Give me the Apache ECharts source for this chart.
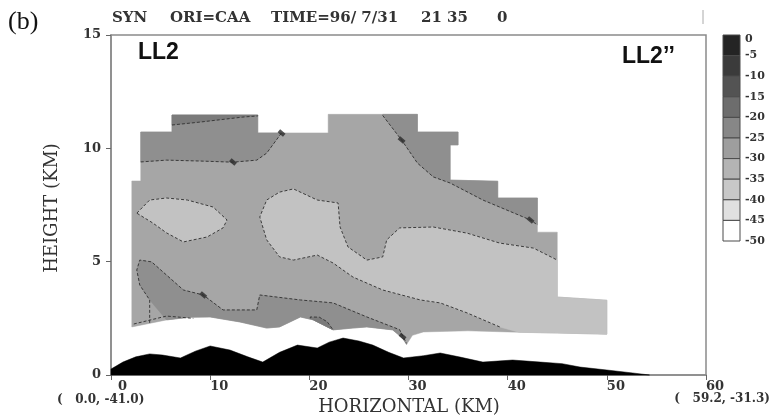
<!DOCTYPE html>
<html><head><meta charset="utf-8">
<script src="https://cdn.jsdelivr.net/npm/echarts@6/dist/echarts.min.js"></script>
<style>html,body{margin:0;padding:0;background:#fff}#c{width:772px;height:420px}</style>
</head><body><div id="c"></div>
<script>
// ---- axis ticks / legend ----
const xTicks = [0, 10, 20, 30, 40, 50, 60];
const yTicks = [0, 5, 10, 15];
const legendLabels = ['0', '-5', '-10', '-15', '-20', '-25', '-30', '-35', '-40', '-45', '-50'];
const legendShades = ['#242424', '#3b3b3b', '#535353', '#6d6d6d', '#878787', '#9e9e9e', '#b4b4b4', '#c8c8c8', '#e0e0e0', '#ffffff'];

// ---- echo region (km, km) ----
const echoTop = [[2.1,2.12],[2.1,8.56],[3.0,8.56],[3.0,10.72],[6.15,10.72],[6.15,11.47],[14.8,11.47],[14.8,10.68],[21.9,10.68],[21.9,11.5],[30.9,11.5],[30.9,10.72],[35.0,10.72],[35.0,10.15],[34.2,10.15],[34.2,8.6],[39.0,8.55],[39.0,7.81],[43.0,7.81],[43.0,6.3],[45.0,6.3],[45.0,3.44],[50.0,3.3],[50.0,1.8]];
const echoBottom = [[2.1,2.12],[5.6,2.43],[8.0,2.55],[10.0,2.56],[13.0,2.34],[15.7,2.07],[17.0,2.12],[19.1,2.56],[20.4,2.43],[22.4,1.99],[24.4,2.07],[25.8,2.12],[28.4,1.99],[29.4,1.63],[29.8,1.35],[30.4,1.75],[31.5,1.9],[36,1.95],[40,1.9],[45,1.85],[50,1.8]];
// contour lines / bands
const upperLine = [[3.0,9.4],[5.6,9.48],[9.0,9.44],[12.3,9.39],[14.7,9.48],[15.7,9.79],[17.2,10.68]];
const topStripLine = [[6.15,11.03],[9.0,11.16],[13.3,11.38],[14.8,11.43]];
const rightLine = [[27.4,11.45],[29.3,10.37],[30.9,9.35],[32.5,8.74],[34.2,8.47],[37.5,7.72],[42.3,6.84],[43.0,6.62]];
const leftOval = [[2.6,7.14],[3.9,7.72],[5.6,7.81],[7.7,7.72],[10.3,7.41],[11.7,6.84],[11.3,6.49],[9.7,6.09],[7.3,5.87],[5.6,6.27],[4.2,6.71]];
const lightTopEdge = [[15.0,6.97],[15.7,7.72],[17.0,8.07],[18.4,8.21],[20.8,7.72],[22.9,7.59],[23.1,6.53],[23.9,5.65],[25.8,5.07],[27.4,5.21],[27.8,5.96],[29.1,6.49],[32.5,6.53],[35.9,6.26],[39.2,5.82],[42.6,5.60],[45.0,5.07]];
const lightBottomEdge = [[39.2,2.12],[35.9,2.74],[33.2,3.18],[31.2,3.31],[27.4,3.75],[24.4,4.32],[22.4,4.94],[20.8,5.29],[18.4,5.07],[17.0,5.21],[15.7,5.96]];
const lightRightEdge = [[45.0,3.44],[50.0,3.3],[50.0,1.8],[45,1.85],[41.2,1.88]];
const lowerBandTop = [[3.9,2.3],[3.9,3.31],[2.9,3.97],[2.6,4.63],[2.9,5.07],[4.1,4.99],[7.3,3.75],[9.3,3.53],[11.3,2.87],[14.7,2.87],[15.0,3.53],[19.1,3.31],[22.4,3.18],[25.8,2.56],[29.1,2.0],[29.8,1.4]];
const lowerPatch = [[20.1,2.5],[20.1,2.56],[21.0,2.55],[21.8,2.35],[22.4,1.99],[20.4,2.43]];
const bottomLeftLine = [[2.3,2.25],[5.6,2.6],[8.3,2.5]];
const terrain = [[0,0],[0,0.26],[1.2,0.57],[2.5,0.8],[3.9,0.93],[5.2,0.88],[7.0,0.75],[8.5,1.05],[10.0,1.28],[12.0,1.10],[13.8,0.8],[15.3,0.57],[17.0,1.0],[18.8,1.32],[20.8,1.19],[22.0,1.45],[23.4,1.63],[25.0,1.5],[26.4,1.32],[28.0,1.0],[29.5,0.75],[31.5,0.85],[33.2,0.97],[35.2,0.79],[37.5,0.57],[40.5,0.66],[43.3,0.57],[45.5,0.5],[47.3,0.35],[50.0,0.22],[52.6,0.09],[54.3,0]];
const contourLabelMarks = [[17.2,10.68],[12.3,9.40],[29.3,10.37],[9.3,3.53],[42.3,6.84],[29.4,1.7]];

// ---- derived shapes (built from the arrays above) ----
const echoOuter = echoTop.concat(echoBottom.slice(0, -1).reverse());
const upperBand = [[3.0,10.72],[6.15,10.72],[6.15,11.47],[14.8,11.47],[14.8,10.68]].concat(upperLine.slice().reverse());
const topStrip = [[6.15,11.47],[14.8,11.47]].concat(topStripLine.slice().reverse());
const rightBand = [[30.9,11.5],[30.9,10.72],[35.0,10.72],[35.0,10.15],[34.2,10.15],[34.2,8.6],[39.0,8.55],[39.0,7.81],[43.0,7.81]].concat(rightLine.slice().reverse(), [[27.4,11.5]]);
const centralLight = lightTopEdge.concat(lightRightEdge, lightBottomEdge);
const lowerBandBottom = echoBottom.filter(p => p[0] > 3.9 && p[0] <= 29.8).reverse();
const lowerBand = lowerBandTop.slice(1).concat(lowerBandBottom);
const lightContour = lightBottomEdge.concat(lightTopEdge);

const MAIN = '#a6a6a6', DARK = '#8f8f8f', DARKER = '#7b7b7b', LIGHT = '#c2c2c2';

function poly(pts, fill, z) {
  return { type: 'custom', coordinateSystem: 'cartesian2d', silent: true, z: z, data: [[0, 0]],
    renderItem: (p, api) => ({ type: 'polygon', shape: { points: pts.map(q => api.coord(q)) }, style: { fill: fill, stroke: fill, lineWidth: 0.5 } }) };
}
function dashed(pts, closed) {
  return { type: 'custom', coordinateSystem: 'cartesian2d', silent: true, z: 5, data: [[0, 0]],
    renderItem: (p, api) => {
      const pp = pts.map(q => api.coord(q));
      if (closed) pp.push(pp[0]);
      return { type: 'polyline', shape: { points: pp }, style: { stroke: '#3a3a3a', lineWidth: 1, lineDash: [3, 2], fill: null } };
    } };
}

const serif = '"DejaVu Serif", serif';
const graphics = [];
graphics.push({ type: 'text', x: 8, y: 22, style: { text: '(b)', font: '26px "Liberation Serif", serif', fill: '#111', verticalAlign: 'middle' } });
[['SYN', 112], ['ORI=CAA', 170], ['TIME=96/ 7/31', 271], ['21 35', 421], ['0', 497]].forEach(t => {
  graphics.push({ type: 'text', x: t[1], y: 18, style: { text: t[0], font: 'bold 15px ' + serif, fill: '#333', verticalAlign: 'middle' } });
});
graphics.push({ type: 'line', shape: { x1: 703, y1: 10, x2: 703, y2: 24 }, style: { stroke: '#aaa', lineWidth: 1 } });
graphics.push({ type: 'text', x: 138, y: 53, style: { text: 'LL2', font: 'bold 23px "Liberation Sans", Arial', fill: '#111', verticalAlign: 'middle' } });
graphics.push({ type: 'text', x: 622, y: 57, style: { text: 'LL2’’', font: 'bold 23px "Liberation Sans", Arial', fill: '#111', verticalAlign: 'middle' } });
graphics.push({ type: 'text', x: 52, y: 208, rotation: Math.PI / 2, style: { text: 'HEIGHT (KM)', font: '18px ' + serif, fill: '#333', align: 'center', verticalAlign: 'middle' } });
graphics.push({ type: 'text', x: 409, y: 407, style: { text: 'HORIZONTAL (KM)', font: '18px ' + serif, fill: '#333', align: 'center', verticalAlign: 'middle' } });
graphics.push({ type: 'text', x: 57, y: 400, style: { text: '(   0.0, -41.0)', font: 'bold 12px ' + serif, fill: '#333', verticalAlign: 'middle' } });
graphics.push({ type: 'text', x: 770, y: 399, style: { text: '(   59.2, -31.3)', font: 'bold 12px ' + serif, fill: '#333', align: 'right', verticalAlign: 'middle' } });
// colour bar
const cbX = 723, cbTop = 35, cbH = 20.6, cbW = 17;
legendShades.forEach((c, i) => {
  graphics.push({ type: 'rect', shape: { x: cbX, y: cbTop + i * cbH, width: cbW, height: cbH }, style: { fill: c, stroke: '#4a4a4a', lineWidth: 1 } });
});
legendLabels.forEach((t, i) => {
  graphics.push({ type: 'text', x: 745, y: cbTop + i * cbH + (i === 0 ? 4 : 0), style: { text: t, font: 'bold 11px ' + serif, fill: '#333', verticalAlign: 'middle' } });
});

const labelFont = { fontFamily: 'DejaVu Serif', fontWeight: 'bold', fontSize: 13, color: '#333' };
const chart = echarts.init(document.getElementById('c'));
chart.setOption({
  animation: false,
  backgroundColor: '#fff',
  grid: { left: 111, right: 66, top: 35, bottom: 45, show: true, borderColor: '#8a8a8a', borderWidth: 1.5 },
  xAxis: { type: 'value', min: xTicks[0], max: xTicks[xTicks.length - 1], interval: 10,
    axisLine: { show: true, lineStyle: { color: '#8a8a8a', width: 1.5 } },
    axisTick: { show: true, length: 5, lineStyle: { color: '#666' } },
    splitLine: { show: false },
    axisLabel: Object.assign({ align: 'left', margin: 5,
      formatter: v => xTicks.indexOf(v) < 0 ? '' : (v === 0 ? '{z|0}' : String(v)),
      rich: { z: Object.assign({ padding: [0, 0, 0, 7] }, labelFont) } }, labelFont) },
  yAxis: { type: 'value', min: yTicks[0], max: yTicks[yTicks.length - 1], interval: 5,
    axisLine: { show: true, lineStyle: { color: '#8a8a8a', width: 1.5 } },
    axisTick: { show: true, length: 5, lineStyle: { color: '#666' } },
    splitLine: { show: false },
    axisLabel: Object.assign({ margin: 10,
      formatter: v => yTicks.indexOf(v) >= 0 ? String(v) : '' }, labelFont) },
  graphic: graphics,
  series: [
    poly(echoOuter, MAIN, 1),
    poly(upperBand, DARK, 2),
    poly(topStrip, DARKER, 3),
    poly(rightBand, DARK, 2),
    poly(lowerBand, DARK, 2),
    poly(lowerPatch, DARKER, 3),
    poly(leftOval, LIGHT, 2),
    poly(centralLight, LIGHT, 2),
    poly(terrain, '#000', 4),
    dashed(upperLine, false),
    dashed(topStripLine, false),
    dashed(rightLine, false),
    dashed(leftOval, true),
    dashed(lightContour, false),
    dashed(lowerBandTop, false),
    dashed(lowerPatch.slice(0, 5), false),
    dashed(bottomLeftLine, false),
    { type: 'scatter', z: 6, silent: true, symbol: 'rect', symbolSize: [7, 4], symbolRotate: -40,
      itemStyle: { color: '#2a2a2a' }, data: contourLabelMarks }
  ]
});
</script></body></html>
